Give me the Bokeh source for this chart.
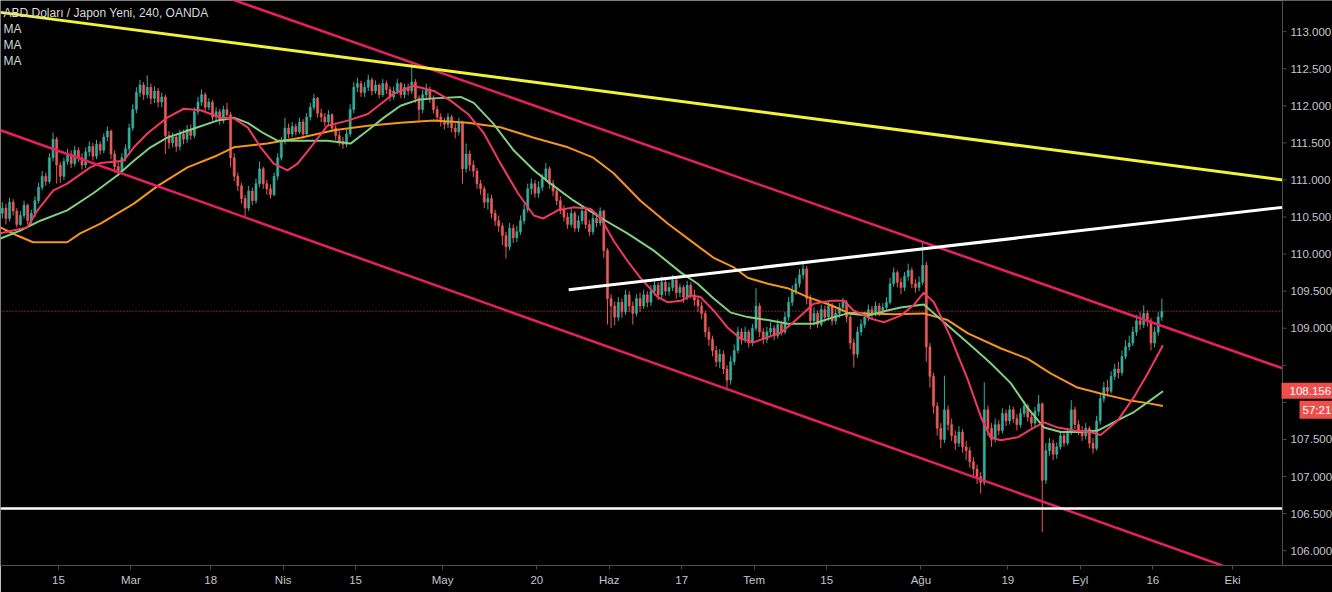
from bokeh.plotting import figure
from bokeh.models import Range1d, FixedTicker, Label
from bokeh.core.properties import value
from bokeh.embed import file_html
from bokeh.resources import INLINE

# ---------------- text ----------------
TITLE = "ABD Doları / Japon Yeni, 240, OANDA"
MA_NAMES = ["MA", "MA", "MA"]
PRICE_TAG = 108.156
COUNTDOWN = "57:21"

# ---------------- axes (x in trading days, Feb 15 = 0) ----------------
DATE_TICKS = [0, 10, 21, 31, 41, 53, 66, 76, 86, 96, 106, 119, 131, 141, 151, 162]
DATE_LABELS = ["15", "Mar", "18", "Nis", "15", "May", "20", "Haz",
               "17", "Tem", "15", "Ağu", "19", "Eyl", "16", "Eki"]
PRICE_TICKS = [106.0, 106.5, 107.0, 107.5, 108.0, 108.5, 109.0, 109.5,
               110.0, 110.5, 111.0, 111.5, 112.0, 112.5, 113.0]

# ---------------- candles (12h bars, two per trading day, from day -8) ----------------
FIRST_DAY = -8
FIRST_OPEN = 110.55
CLOSE = [
    110.62, 110.48, 110.70, 110.58, 110.40, 110.52, 110.66, 110.45, 110.55, 110.72,
    110.90, 111.05, 110.98, 111.30, 111.55, 111.20, 111.05, 111.25, 111.35, 111.22,
    111.40, 111.30, 111.20, 111.38, 111.45, 111.32, 111.48, 111.40, 111.58, 111.66,
    111.35, 111.18, 111.12, 111.30, 111.42, 111.70, 111.95, 112.18, 112.28, 112.15,
    112.25, 112.10, 112.20, 112.05, 112.12, 111.60, 111.50, 111.58, 111.45, 111.62,
    111.55, 111.68, 111.60, 111.92, 112.05, 112.15, 111.98, 112.05, 111.85, 111.92,
    111.80, 111.95, 111.88, 111.30, 111.05, 110.92, 110.75, 110.62, 110.85, 110.72,
    110.95, 111.15, 110.95, 110.88, 110.80, 111.05, 111.30, 111.52, 111.70, 111.62,
    111.72, 111.65, 111.78, 111.62, 111.85, 111.98, 112.10, 111.90, 111.85, 111.78,
    111.88, 111.70, 111.60, 111.52, 111.48, 111.62, 111.95, 112.25, 112.30, 112.18,
    112.25, 112.35, 112.20, 112.28, 112.15, 112.30, 112.22, 112.12, 112.20, 112.30,
    112.15, 112.25, 112.20, 112.32, 112.10, 111.95, 112.15, 112.22, 112.10, 111.95,
    111.85, 111.78, 111.75, 111.85, 111.70, 111.65, 111.78, 111.15, 111.35, 111.20,
    111.12, 110.95, 110.88, 110.70, 110.75, 110.55, 110.45, 110.38, 110.25, 110.10,
    110.35, 110.22, 110.30, 110.45, 110.60, 110.88, 110.95, 110.82, 110.90, 111.02,
    111.15, 110.95, 110.85, 110.72, 110.60, 110.50, 110.40, 110.55, 110.35, 110.45,
    110.58, 110.40, 110.30, 110.48, 110.42, 110.58, 110.05, 109.40, 109.30, 109.15,
    109.35, 109.22, 109.45, 109.30, 109.20, 109.40, 109.30, 109.45, 109.35, 109.50,
    109.58, 109.45, 109.62, 109.50, 109.55, 109.65, 109.48, 109.55, 109.42, 109.58,
    109.45, 109.38, 109.30, 109.20, 108.95, 108.85, 108.70, 108.55, 108.65, 108.45,
    108.30, 108.55, 108.70, 108.95, 108.85, 108.95, 108.80, 109.00, 109.30, 108.95,
    108.85, 108.95, 109.00, 108.90, 109.05, 108.95, 109.15, 109.35, 109.50, 109.60,
    109.72, 109.80, 109.40, 109.10, 109.20, 109.05, 109.25, 109.15, 109.30, 109.10,
    109.20, 109.28, 109.35, 109.15, 108.80, 108.65, 108.95, 109.05, 109.15, 109.25,
    109.20, 109.30, 109.22, 109.28, 109.35, 109.60, 109.75, 109.62, 109.55, 109.70,
    109.78, 109.60, 109.55, 109.62, 109.85, 108.75, 108.35, 107.95, 107.65, 107.50,
    107.90, 107.70, 107.55, 107.45, 107.60, 107.40, 107.35, 107.20, 107.10, 107.00,
    106.92, 107.90, 107.65, 107.50, 107.70, 107.62, 107.85, 107.75, 107.90, 107.78,
    107.70, 107.85, 107.95, 107.80, 107.72, 107.88, 107.98, 106.95, 107.35, 107.45,
    107.30, 107.40, 107.55, 107.45, 107.60, 107.90, 107.70, 107.62, 107.55, 107.65,
    107.45, 107.38, 107.75, 108.05, 108.20, 108.15, 108.35, 108.45, 108.40, 108.62,
    108.75, 108.80, 108.95, 109.10, 109.05, 109.20, 109.10, 108.80, 108.95, 109.15,
    109.23,
]
HIGH = [
    110.70, 110.68, 110.76, 110.74, 110.62, 110.58, 110.72, 110.68, 110.60, 110.78,
    110.96, 111.12, 111.10, 111.36, 111.64, 111.58, 111.24, 111.30, 111.42, 111.40,
    111.46, 111.44, 111.36, 111.44, 111.52, 111.50, 111.54, 111.52, 111.63, 111.72,
    111.68, 111.40, 111.24, 111.36, 111.48, 111.76, 112.02, 112.25, 112.35, 112.32,
    112.41, 112.30, 112.26, 112.24, 112.18, 112.15, 111.66, 111.64, 111.62, 111.68,
    111.68, 111.74, 111.75, 111.98, 112.12, 112.22, 112.18, 112.10, 112.08, 111.98,
    111.96, 112.00, 112.04, 111.92, 111.36, 111.10, 110.96, 110.80, 110.92, 110.90,
    111.02, 111.25, 111.18, 111.00, 110.94, 111.10, 111.36, 111.58, 111.84, 111.76,
    111.78, 111.76, 111.84, 111.82, 111.90, 112.04, 112.16, 112.12, 111.96, 111.90,
    111.94, 111.90, 111.74, 111.66, 111.58, 111.68, 112.02, 112.32, 112.38, 112.34,
    112.32, 112.42, 112.38, 112.34, 112.30, 112.36, 112.34, 112.26, 112.26, 112.36,
    112.32, 112.30, 112.30, 112.58, 112.36, 112.14, 112.22, 112.30, 112.26, 112.14,
    112.00, 111.90, 111.84, 111.90, 111.88, 111.76, 111.84, 111.80, 111.49, 111.40,
    111.26, 111.16, 111.00, 110.92, 110.82, 110.80, 110.60, 110.52, 110.42, 110.30,
    110.42, 110.40, 110.38, 110.52, 110.68, 110.95, 111.02, 111.00, 110.98, 111.08,
    111.23, 111.18, 111.00, 110.90, 110.78, 110.66, 110.56, 110.62, 110.58, 110.52,
    110.64, 110.62, 110.46, 110.54, 110.55, 110.63, 110.60, 110.08, 109.46, 109.36,
    109.42, 109.40, 109.52, 109.50, 109.36, 109.46, 109.48, 109.52, 109.50, 109.58,
    109.66, 109.62, 109.70, 109.66, 109.62, 109.72, 109.68, 109.60, 109.58, 109.64,
    109.62, 109.52, 109.44, 109.36, 109.24, 109.02, 108.90, 108.76, 108.72, 108.70,
    108.50, 108.62, 108.78, 109.02, 109.00, 109.02, 108.98, 109.06, 109.54, 109.34,
    109.00, 109.02, 109.08, 109.04, 109.12, 109.10, 109.22, 109.42, 109.58, 109.68,
    109.80, 109.91, 109.84, 109.45, 109.28, 109.24, 109.32, 109.30, 109.36, 109.34,
    109.26, 109.34, 109.41, 109.38, 109.18, 108.86, 109.02, 109.12, 109.22, 109.32,
    109.30, 109.36, 109.34, 109.34, 109.42, 109.68, 109.82, 109.78, 109.68, 109.76,
    109.87, 109.82, 109.66, 109.70, 110.16, 109.90, 108.80, 108.40, 108.00, 107.72,
    108.36, 107.96, 107.78, 107.62, 107.68, 107.64, 107.48, 107.40, 107.26, 107.16,
    107.06, 108.27, 107.96, 107.72, 107.78, 107.76, 107.92, 107.90, 107.96, 107.94,
    107.84, 107.92, 108.02, 107.98, 107.86, 107.94, 108.10, 108.00, 107.45, 107.52,
    107.50, 107.46, 107.62, 107.60, 107.66, 108.03, 107.94, 107.76, 107.68, 107.72,
    107.68, 107.52, 107.82, 108.12, 108.28, 108.30, 108.42, 108.52, 108.55, 108.70,
    108.84, 108.90, 109.02, 109.18, 109.22, 109.31, 109.24, 109.14, 109.02, 109.22,
    109.40,
]
LOW = [
    110.48, 110.40, 110.44, 110.52, 110.36, 110.38, 110.48, 110.40, 110.38, 110.50,
    110.68, 110.86, 110.92, 110.95, 111.25, 110.95, 110.96, 111.00, 111.20, 111.16,
    111.18, 111.24, 111.14, 111.16, 111.32, 111.26, 111.28, 111.34, 111.36, 111.52,
    111.28, 111.10, 111.05, 111.08, 111.25, 111.38, 111.66, 111.90, 112.12, 112.08,
    112.10, 112.02, 112.04, 111.98, 111.98, 111.35, 111.42, 111.44, 111.38, 111.40,
    111.48, 111.50, 111.54, 111.56, 111.88, 112.00, 111.92, 111.94, 111.80, 111.78,
    111.74, 111.76, 111.82, 111.17, 110.98, 110.85, 110.68, 110.50, 110.58, 110.66,
    110.68, 110.90, 110.88, 110.80, 110.75, 110.78, 111.00, 111.26, 111.48, 111.56,
    111.58, 111.60, 111.62, 111.56, 111.60, 111.80, 111.94, 111.84, 111.78, 111.72,
    111.74, 111.64, 111.54, 111.46, 111.42, 111.44, 111.58, 111.90, 112.18, 112.12,
    112.12, 112.20, 112.14, 112.16, 112.10, 112.12, 112.16, 112.06, 112.08, 112.16,
    112.10, 112.10, 112.14, 112.16, 112.04, 111.80, 111.90, 112.10, 112.04, 111.90,
    111.78, 111.72, 111.68, 111.70, 111.64, 111.56, 111.60, 110.95, 111.10, 111.12,
    111.04, 110.88, 110.80, 110.62, 110.60, 110.48, 110.38, 110.30, 110.12, 109.94,
    110.05, 110.15, 110.16, 110.26, 110.40, 110.56, 110.80, 110.76, 110.76, 110.85,
    110.98, 110.88, 110.78, 110.66, 110.54, 110.44, 110.34, 110.36, 110.30, 110.30,
    110.40, 110.34, 110.24, 110.26, 110.36, 110.38, 109.95, 109.05, 109.00, 109.04,
    109.10, 109.14, 109.18, 109.22, 109.05, 109.16, 109.22, 109.26, 109.28, 109.30,
    109.44, 109.38, 109.40, 109.44, 109.44, 109.50, 109.40, 109.42, 109.34, 109.38,
    109.40, 109.30, 109.22, 109.12, 108.88, 108.76, 108.62, 108.48, 108.46, 108.38,
    108.16, 108.24, 108.50, 108.66, 108.78, 108.80, 108.74, 108.76, 108.96, 108.88,
    108.78, 108.80, 108.88, 108.84, 108.86, 108.90, 108.92, 109.10, 109.30, 109.45,
    109.55, 109.66, 109.32, 108.99, 109.04, 109.00, 109.02, 109.08, 109.10, 109.04,
    109.05, 109.14, 109.22, 109.08, 108.72, 108.47, 108.60, 108.90, 109.00, 109.10,
    109.12, 109.16, 109.16, 109.18, 109.22, 109.32, 109.56, 109.55, 109.46, 109.50,
    109.64, 109.54, 109.48, 109.50, 109.58, 108.55, 108.20, 107.85, 107.55, 107.38,
    107.45, 107.62, 107.48, 107.36, 107.40, 107.32, 107.22, 107.12, 106.98, 106.90,
    106.77, 106.88, 107.55, 107.40, 107.46, 107.56, 107.58, 107.68, 107.70, 107.72,
    107.62, 107.66, 107.80, 107.74, 107.66, 107.68, 107.82, 106.25, 106.90, 107.28,
    107.22, 107.24, 107.36, 107.40, 107.42, 107.56, 107.64, 107.56, 107.48, 107.50,
    107.38, 107.31, 107.35, 107.70, 108.00, 108.08, 108.12, 108.30, 108.32, 108.36,
    108.58, 108.70, 108.76, 108.90, 108.98, 109.00, 109.02, 108.70, 108.74, 108.90,
    109.10,
]

# ---------------- moving averages (day, price) ----------------
MA_FAST_X = [-8.0, -4.3, -2.9, -0.7, 1.2, 4.4, 5.8, 9.0, 10.4, 12.3, 15.0, 17.3, 19.6, 22.4,
             24.2, 26.1, 27.9, 29.7, 31.6, 33.0, 34.8, 37.1, 39.9, 42.7, 46.2, 49.0, 51.8,
             54.1, 56.5, 58.7, 61.0, 63.4, 65.6, 66.9, 68.9, 71.1, 73.4, 74.8, 76.6, 78.5,
             80.3, 82.7, 84.1, 85.9, 87.2, 88.6, 90.4, 92.3, 94.1, 95.9, 97.9, 99.7, 102.0,
             104.2, 106.6, 108.4, 109.7, 112.1, 113.9, 116.2, 118.0, 119.4, 120.8, 123.1,
             125.5, 127.3, 128.6, 130.0, 132.4, 134.6, 136.0, 137.9, 140.1, 142.4, 143.8,
             146.2, 148.4, 150.3, 152.4]
MA_FAST_Y = [110.28, 110.36, 110.59, 110.86, 110.95, 111.17, 111.23, 111.26, 111.44, 111.63,
             111.84, 111.96, 111.94, 111.84, 111.83, 111.71, 111.44, 111.22, 111.13, 111.22,
             111.44, 111.73, 111.80, 111.89, 112.16, 112.27, 112.20, 112.07, 111.89, 111.63,
             111.22, 110.82, 110.52, 110.48, 110.59, 110.63, 110.61, 110.49, 110.18, 109.91,
             109.68, 109.42, 109.35, 109.37, 109.44, 109.42, 109.24, 109.01, 108.86, 108.81,
             108.88, 108.94, 109.13, 109.33, 109.37, 109.37, 109.24, 109.13, 109.08, 109.17,
             109.31, 109.48, 109.35, 108.88, 108.30, 107.80, 107.53, 107.49, 107.53, 107.66,
             107.73, 107.66, 107.62, 107.60, 107.56, 107.76, 108.07, 108.39, 108.77]
MA_MID_X = [-8.0, -5.2, -2.5, 1.2, 4.8, 8.1, 10.4, 12.7, 15.0, 18.6, 21.9, 24.2, 26.1, 28.3,
            30.2, 33.4, 37.1, 40.3, 42.7, 44.9, 47.2, 49.6, 51.8, 55.5, 57.3, 60.0, 62.8,
            65.6, 67.9, 71.1, 74.8, 78.5, 82.1, 85.9, 88.2, 90.4, 92.8, 95.1, 97.9, 100.6,
            104.2, 107.0, 108.9, 111.7, 114.4, 116.2, 119.4, 122.2, 125.5, 128.6, 131.4,
            133.7, 136.0, 138.3, 141.1, 143.4, 146.2, 148.4, 150.7, 152.4]
MA_MID_Y = [110.21, 110.32, 110.45, 110.59, 110.82, 111.06, 111.26, 111.44, 111.57, 111.69,
            111.80, 111.84, 111.77, 111.63, 111.53, 111.53, 111.53, 111.49, 111.67, 111.84,
            112.00, 112.08, 112.10, 112.12, 112.04, 111.76, 111.40, 111.13, 110.95, 110.72,
            110.49, 110.28, 110.05, 109.75, 109.60, 109.40, 109.21, 109.15, 109.11, 109.06,
            109.06, 109.15, 109.20, 109.17, 109.24, 109.28, 109.32, 109.08, 108.80, 108.53,
            108.26, 107.93, 107.66, 107.60, 107.60, 107.62, 107.76, 107.87, 108.03, 108.15]
MA_SLOW_X = [-8.0, -5.7, -3.5, 1.2, 3.0, 5.8, 10.4, 13.7, 17.8, 21.9, 24.2, 28.8, 33.4, 38.0,
             42.7, 47.2, 51.8, 56.5, 61.0, 65.6, 70.3, 73.8, 76.6, 80.3, 84.1, 88.6, 90.4,
             93.2, 95.1, 97.9, 100.6, 103.4, 106.6, 108.9, 111.7, 115.3, 119.4, 122.7, 125.5,
             130.0, 133.7, 136.9, 140.6, 143.8, 147.6, 150.3, 152.4]
MA_SLOW_Y = [110.36, 110.25, 110.16, 110.16, 110.28, 110.41, 110.68, 110.92, 111.17, 111.33,
             111.44, 111.49, 111.57, 111.67, 111.73, 111.77, 111.80, 111.77, 111.71, 111.57,
             111.44, 111.30, 111.09, 110.72, 110.41, 110.08, 109.95, 109.82, 109.68, 109.60,
             109.54, 109.42, 109.31, 109.21, 109.20, 109.19, 109.20, 109.11, 108.93, 108.73,
             108.59, 108.39, 108.20, 108.12, 108.03, 107.99, 107.95]

# ---------------- drawn trend lines (day, price) ----------------
YELLOW_X, YELLOW_Y = [-8.0, 168.9], [113.26, 111.00]
CHAN_UP_X, CHAN_UP_Y = [20.0, 168.9], [113.57, 108.46]
CHAN_LO_X, CHAN_LO_Y = [-8.0, 168.9], [111.67, 105.51]
NECK_X, NECK_Y = [70.4, 168.9], [109.52, 110.63]
SUPPORT_X, SUPPORT_Y = [-8.0, 168.9], [106.57, 106.57]

# ---------------- colours ----------------
BG = "#000000"
UP, DOWN = "#35ad9c", "#e85a5a"
C_FAST, C_MID, C_SLOW = "#f2385f", "#7fd07f", "#f7941d"
C_CHAN, C_YEL, C_WHITE = "#e91e63", "#f2f23a", "#ffffff"
AXIS_C, LABEL_C = "#4c4c4c", "#c3c6ce"
TAG_C = "#ef4f4a"

# ---------------- geometry ----------------
W, H = 1332, 592
CHART_W = 1282                  # price scale starts here
BOTTOM = 27
X0, X1 = -8.0, 168.9            # chart area (left of price scale)
XR = X0 + (X1 - X0) * W / CHART_W
Y0, Y1 = 105.80, 113.42
PX = (X1 - X0) / CHART_W        # days per pixel
PY = (Y1 - Y0) / (H - BOTTOM)   # price per pixel

assert len(CLOSE) == len(HIGH) == len(LOW)

n = len(CLOSE)
xs = [FIRST_DAY + 0.5 * k + 0.25 for k in range(n)]
opens = [FIRST_OPEN] + CLOSE[:-1]
colors = [UP if c >= o else DOWN for o, c in zip(opens, CLOSE)]
tops = [max(o, c) for o, c in zip(opens, CLOSE)]
bots = [min(o, c) for o, c in zip(opens, CLOSE)]

p = figure(width=W, height=H, x_range=Range1d(X0, XR), y_range=Range1d(Y0, Y1),
           output_backend="svg", toolbar_location=None, y_axis_location=None,
           min_border_left=0, min_border_top=0, min_border_right=0, min_border_bottom=BOTTOM,
           background_fill_color=BG, border_fill_color=BG, outline_line_color=None)
p.xgrid.visible = False
p.ygrid.visible = False

xa = p.xaxis[0]
xa.ticker = FixedTicker(ticks=DATE_TICKS)
xa.major_label_overrides = {t: l for t, l in zip(DATE_TICKS, DATE_LABELS)}
xa.axis_line_color = AXIS_C
xa.major_tick_line_color = AXIS_C
xa.minor_tick_line_color = None
xa.major_tick_out = 4
xa.major_tick_in = 0
xa.major_label_standoff = 4
xa.major_label_text_color = LABEL_C
xa.major_label_text_font = "Liberation Sans"
xa.major_label_text_font_size = "11.5px"

# candles
p.segment(x0=xs, y0=LOW, x1=xs, y1=HIGH, line_color=colors, line_width=1)
p.vbar(x=xs, top=tops, bottom=bots, width=0.28, fill_color=colors, line_color=colors, line_width=0.6)

# moving averages
p.line(MA_SLOW_X, MA_SLOW_Y, line_color=C_SLOW, line_width=2)
p.line(MA_MID_X, MA_MID_Y, line_color=C_MID, line_width=2)
p.line(MA_FAST_X, MA_FAST_Y, line_color=C_FAST, line_width=2)

# last price dotted line
p.line([X0, X1], [CLOSE[-1], CLOSE[-1]], line_color="#d9534f", line_dash="1 2", line_width=1)

# drawings
p.line(CHAN_UP_X, CHAN_UP_Y, line_color=C_CHAN, line_width=2.5)
p.line(CHAN_LO_X, CHAN_LO_Y, line_color=C_CHAN, line_width=2.5)
p.line(YELLOW_X, YELLOW_Y, line_color=C_YEL, line_width=3)
p.line(NECK_X, NECK_Y, line_color=C_WHITE, line_width=3)
p.line(SUPPORT_X, SUPPORT_Y, line_color=C_WHITE, line_width=2.5)

# price scale (right side); labels hidden where the price tag sits, as on the source
p.quad(left=[X1], right=[XR], bottom=[Y0], top=[Y1], fill_color=BG, line_color=None)
p.segment(x0=[X1], y0=[Y0], x1=[X1], y1=[Y1], line_color=AXIS_C, line_width=1)
p.segment(x0=[X1] * len(PRICE_TICKS), y0=PRICE_TICKS, x1=[X1 + 4 * PX] * len(PRICE_TICKS),
          y1=PRICE_TICKS, line_color=AXIS_C, line_width=1)
shown = [t for t in PRICE_TICKS if abs(t - PRICE_TAG) > 30 * PY]
p.text(x=[X1 + 8 * PX] * len(shown), y=shown,
       text=[f"{t:.3f}" for t in shown], text_baseline="middle", text_align="left",
       text_color=LABEL_C, text_font=value("Liberation Sans"), text_font_size="11.5px")

# price tag & countdown
p.quad(left=[X1 - 1 * PX], right=[XR], bottom=[PRICE_TAG - 8 * PY], top=[PRICE_TAG + 8 * PY],
       fill_color=TAG_C, line_color=None)
p.text(x=[X1 + 7 * PX], y=[PRICE_TAG], text=[f"{PRICE_TAG:.3f}"], text_baseline="middle",
       text_color="#ffffff", text_font=value("Liberation Sans"), text_font_size="11.5px")
p.quad(left=[X1 + 17 * PX], right=[XR], bottom=[PRICE_TAG - 28 * PY], top=[PRICE_TAG - 10 * PY],
       fill_color=TAG_C, line_color=None)
p.text(x=[X1 + 20 * PX], y=[PRICE_TAG - 19 * PY], text=[COUNTDOWN], text_baseline="middle",
       text_color="#ffffff", text_font=value("Liberation Sans"), text_font_size="11.5px")

# legend texts (top-left)
p.add_layout(Label(x=X0, y=113.256, x_offset=3, text=TITLE, text_baseline="middle",
                   text_color="#d6d8de", text_font="Liberation Sans", text_font_size="12px"))
for i, name in enumerate(MA_NAMES):
    p.add_layout(Label(x=X0, y=113.04 - 0.2156 * i, x_offset=3, text=name, text_baseline="middle",
                       text_color="#d6d8de", text_font="Liberation Sans", text_font_size="12px"))

open("out.html", "w").write(file_html(p, INLINE))
